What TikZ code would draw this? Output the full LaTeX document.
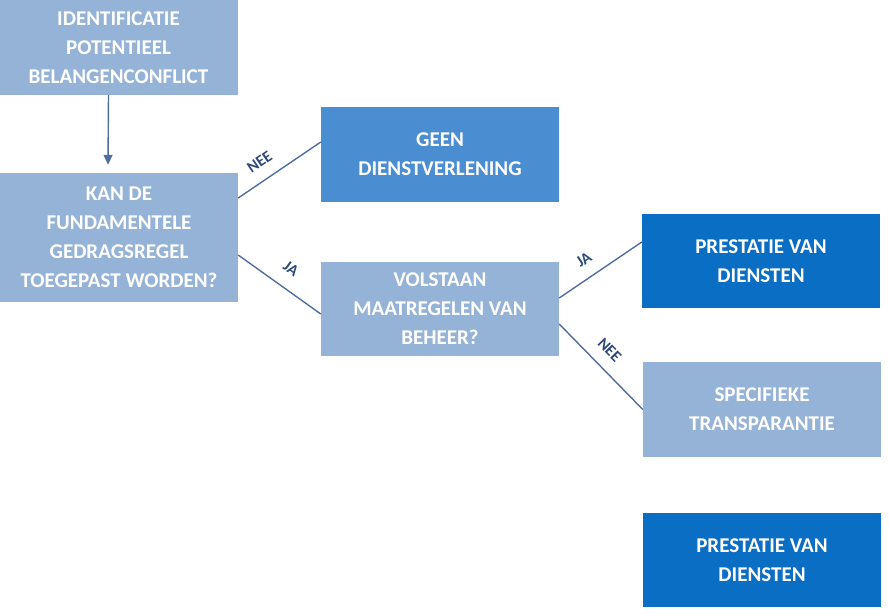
\documentclass[tikz,border=0pt]{standalone}
\usepackage{fontspec}
\setmainfont{Carlito}
\usetikzlibrary{arrows.meta}
\definecolor{lightbox}{HTML}{95B3D7}
\definecolor{midbox}{HTML}{4A8DD0}
\definecolor{darkbox}{HTML}{0A6EC4}
\definecolor{linecol}{HTML}{4F6E9E}
\definecolor{labcol}{HTML}{2E4A7A}
\tikzset{
  boxbase/.style={rectangle, inner sep=0pt, minimum width=238pt, text=white, font=\fontsize{21}{29}\selectfont\bfseries, align=center},
  lightnode/.style={boxbase, fill=lightbox},
  midnode/.style={boxbase, fill=midbox},
  darknode/.style={boxbase, fill=darkbox},
  conn/.style={draw=linecol, line width=1.4pt},
  lab/.style={text=labcol, font=\fontsize{16}{18}\selectfont\bfseries, inner sep=1pt}
}
\begin{document}
\begin{tikzpicture}[x=1pt,y=-1pt]
\useasboundingbox (0,0) rectangle (889,614);
\node[lightnode, minimum height=95pt] (A) at (118.5,47.5) {IDENTIFICATIE\\POTENTIEEL\\BELANGENCONFLICT};
\node[lightnode, minimum height=129pt] (B) at (119,237.5) {KAN DE\\FUNDAMENTELE\\GEDRAGSREGEL\\TOEGEPAST WORDEN?};
\node[midnode, minimum height=95pt] (C) at (440,154.5) {GEEN\\DIENSTVERLENING};
\node[lightnode, minimum height=94pt] (D) at (440,309) {VOLSTAAN\\MAATREGELEN VAN\\BEHEER?};
\node[darknode, minimum height=94pt] (E) at (761,261) {PRESTATIE VAN\\DIENSTEN};
\node[lightnode, minimum height=95pt] (F) at (762,409.5) {SPECIFIEKE\\TRANSPARANTIE};
\node[darknode, minimum height=94pt] (G) at (762,560) {PRESTATIE VAN\\DIENSTEN};

\draw[conn, -{Triangle[length=10pt,width=9pt]}] ([xshift=-10pt]A.south) -- ([xshift=-11pt,yshift=8pt]B.north);
\draw[conn] ([yshift=39.5pt]B.east) -- node[lab, pos=0.38, above=11pt, sloped] {NEE} ([yshift=12.5pt]C.west);
\draw[conn] ([yshift=-17.5pt]B.east) -- node[lab, pos=0.5, above=13pt, sloped] {JA} ([yshift=-5pt]D.west);
\draw[conn] ([yshift=11pt]D.east) -- node[lab, pos=0.42, above=11pt, sloped] {JA} ([yshift=19pt]E.west);
\draw[conn] ([yshift=-15pt]D.east) -- node[lab, pos=0.45, above=11pt, sloped] {NEE} (F.west);
\end{tikzpicture}
\end{document}
